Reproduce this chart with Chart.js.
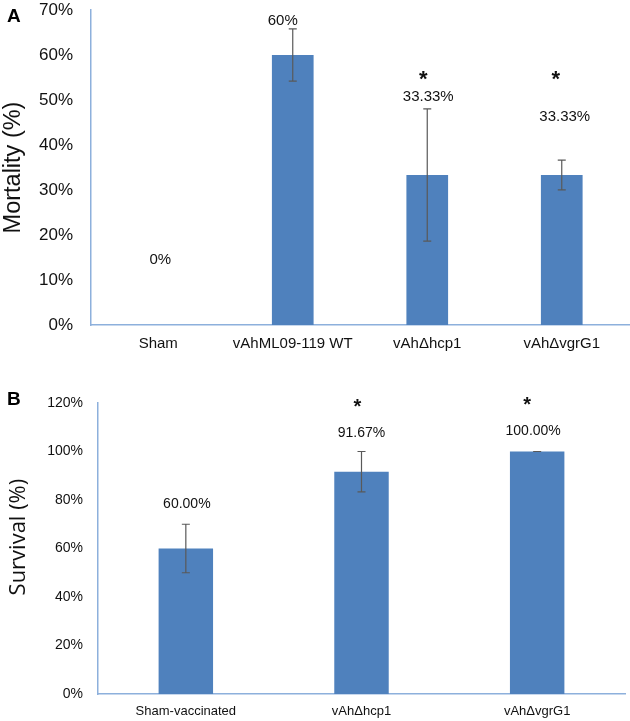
<!DOCTYPE html>
<html>
<head>
<meta charset="utf-8">
<script src="https://cdn.jsdelivr.net/npm/chart.js@4"></script>
<style>
  html, body { margin: 0; padding: 0; background: #fff; }
  body { width: 630px; height: 721px; position: relative; overflow: hidden; font-family: "Liberation Sans", Arial, sans-serif; }
  .panel { position: absolute; left: 0; width: 630px; }
  #wrapA { top: -30px; height: 390px; }
  #wrapB { top: 360px; height: 361px; }
  .tag { position: absolute; font-weight: bold; font-size: 19px; color: #000; line-height: 1; }
</style>
</head>
<body>
<div class="panel" id="wrapA"><canvas id="chartA" width="630" height="390"></canvas></div>
<div class="panel" id="wrapB"><canvas id="chartB" width="630" height="361"></canvas></div>
<div class="tag" style="left:7px; top:6px;">A</div>
<div class="tag" style="left:7px; top:389px;">B</div>
<script>
// ---- Panel A data ----
const mortalityCategories = ['Sham', 'vAhML09-119 WT', 'vAh\u0394hcp1', 'vAh\u0394vgrG1'];
const mortalityValues = [0, 60, 33.33, 33.33];
const mortalityErrors = [0, 5.8, 14.7, 3.3];
const mortalityLabels = ['0%', '60%', '33.33%', '33.33%'];
const mortalityStars = ['', '', '*', '*'];
const mortalityTicks = [0, 10, 20, 30, 40, 50, 60, 70];

// ---- Panel B data ----
const survivalCategories = ['Sham-vaccinated', 'vAh\u0394hcp1', 'vAh\u0394vgrG1'];
const survivalValues = [60, 91.67, 100];
const survivalErrors = [10, 8.33, 0];
const survivalLabels = ['60.00%', '91.67%', '100.00%'];
const survivalStars = ['', '*', '*'];
const survivalTicks = [0, 20, 40, 60, 80, 100, 120];

// label placement (in axis units), kept apart from the data
const mortalityLabelAt = [14.4, 67.6, 50.7, 46.2];
const mortalityStarAt = [0, 0, 55.3, 55.3];
const survivalLabelAt = [78.4, 107.6, 108.5];
const survivalStarAt = [0, 120, 120.8];

const BAR = '#4f81bd';
const AXIS = '#8db0dc';
const ERR = '#595959';

function annotPlugin(cfg) {
  return {
    id: 'annot',
    afterDatasetsDraw(chart) {
      const ctx = chart.ctx;
      const xs = chart.scales.x, ys = chart.scales.y;
      ctx.save();
      cfg.values.forEach((v, i) => {
        const x = xs.getPixelForValue(i);
        const e = cfg.errors[i];
        if (v > 0) {
          const yt = ys.getPixelForValue(v + e), yb = ys.getPixelForValue(v - e);
          ctx.strokeStyle = ERR; ctx.lineWidth = 1.2;
          ctx.beginPath();
          ctx.moveTo(x, yt); ctx.lineTo(x, yb);
          ctx.moveTo(x - cfg.cap, yt); ctx.lineTo(x + cfg.cap, yt);
          ctx.moveTo(x - cfg.cap, yb); ctx.lineTo(x + cfg.cap, yb);
          ctx.stroke();
        }
        ctx.fillStyle = '#111';
        ctx.textAlign = 'center'; ctx.textBaseline = 'middle';
        ctx.font = cfg.labelFont;
        ctx.fillText(cfg.labels[i], x + cfg.labelDx[i], ys.getPixelForValue(cfg.labelAt[i]));
        if (cfg.stars[i]) {
          ctx.font = cfg.starFont;
          ctx.fillText(cfg.stars[i], x + cfg.starDx[i], ys.getPixelForValue(cfg.starAt[i]) + cfg.starShift);
        }
      });
      ctx.restore();
    }
  };
}

function makeChart(id, o) {
  return new Chart(document.getElementById(id), {
    type: 'bar',
    data: {
      labels: o.categories,
      datasets: [{ data: o.values, backgroundColor: BAR, borderWidth: 0, categoryPercentage: 1, barPercentage: 0.31 }]
    },
    options: {
      responsive: false, animation: false,
      layout: { padding: o.padding },
      plugins: { legend: { display: false }, tooltip: { enabled: false } },
      scales: {
        x: {
          grid: { display: false, drawTicks: false },
          border: { color: AXIS, width: 1.5 },
          ticks: { color: '#111', font: { family: 'Liberation Sans', size: o.catSize }, padding: o.catPad, maxRotation: 0, autoSkip: false },
          afterFit(s) { s.height = o.xHeight; }
        },
        y: {
          min: 0, max: o.max,
          grid: { display: false, drawTicks: false },
          border: { color: AXIS, width: 1.5 },
          afterBuildTicks(s) { s.ticks = o.ticks.map(v => ({ value: v })); },
          ticks: { color: '#111', font: { family: 'Liberation Sans', size: o.tickSize }, padding: o.tickPad, callback: v => v + '%' },
          title: { display: true, text: o.title, color: '#111', font: o.titleFont, padding: o.titlePad },
          afterFit(s) { s.width = o.yWidth; }
        }
      }
    },
    plugins: [annotPlugin(o.annot)]
  });
}

makeChart('chartA', {
  categories: mortalityCategories, values: mortalityValues, max: 70, ticks: mortalityTicks,
  padding: { top: 40, right: 1, left: 0, bottom: 0 }, xHeight: 35, yWidth: 91,
  catSize: 15, catPad: 10, tickSize: 17, tickPad: 18,
  title: 'Mortality (%)', titleFont: { family: 'Liberation Sans', size: 23.5, lineHeight: 1 }, titlePad: { top: 2, bottom: 0 },
  annot: { values: mortalityValues, errors: mortalityErrors, labels: mortalityLabels, stars: mortalityStars,
    labelAt: mortalityLabelAt, starAt: mortalityStarAt, labelDx: [2, -10, 1, 3], starDx: [0, 0, -4, -6], starShift: 4,
    cap: 4, labelFont: '15px "Liberation Sans"', starFont: 'bold 22px "Liberation Sans"' }
});

makeChart('chartB', {
  categories: survivalCategories, values: survivalValues, max: 120, ticks: survivalTicks,
  padding: { top: 43, right: 5, left: 0, bottom: 0 }, xHeight: 27, yWidth: 98,
  catSize: 13, catPad: 10, tickSize: 14, tickPad: 15,
  title: '    Survival (%)', titleFont: { family: 'Open Sans', size: 22, lineHeight: 1 }, titlePad: { top: 8, bottom: 0 },
  annot: { values: survivalValues, errors: survivalErrors, labels: survivalLabels, stars: survivalStars,
    labelAt: survivalLabelAt, starAt: survivalStarAt, labelDx: [1, 0, -4], starDx: [0, -4, -10], starShift: 4,
    cap: 4, labelFont: '14px "Liberation Sans"', starFont: 'bold 20px "Liberation Sans"' }
});
</script>
</body>
</html>
